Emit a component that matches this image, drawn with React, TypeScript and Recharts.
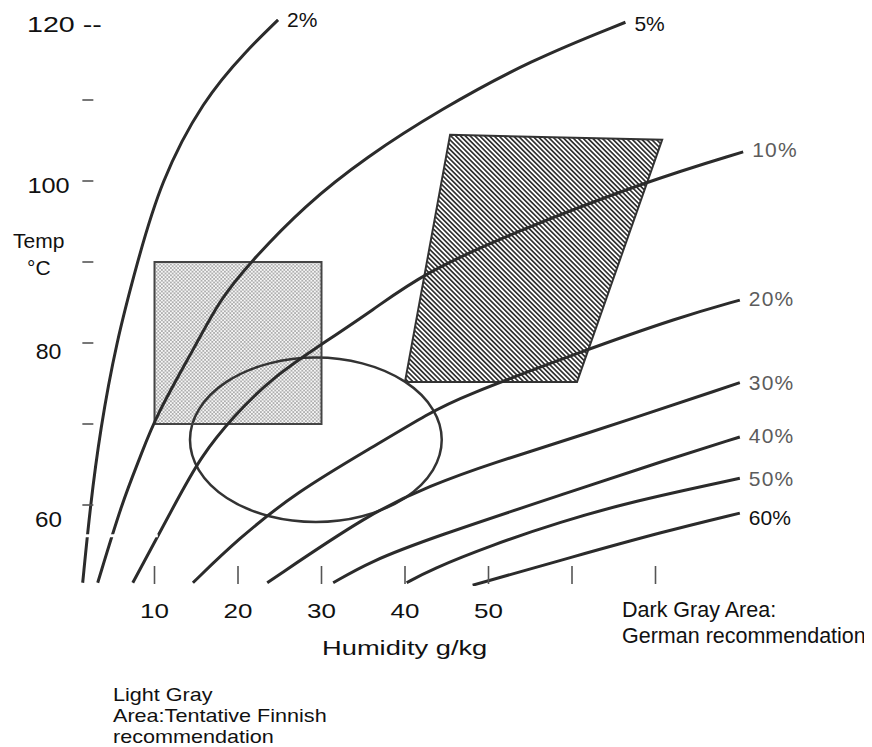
import React from 'react';
import { ComposedChart, Line, Area, XAxis, YAxis, ReferenceArea, LabelList } from 'recharts';

const FONT = '"Liberation Sans", Arial, Helvetica, sans-serif';
const W = 864;
const H = 739;
const Y_AXIS_W = 71.35;
const X_AXIS_H = 30;
const MARGIN = { top: 11, right: 124.65, bottom: 161 - X_AXIS_H, left: 0 };
const PLOT_LEFT = Y_AXIS_W;
const PLOT_BOTTOM = H - 161;

// ---- axes ----
const humidityTicks = [10, 20, 30, 40, 50, 60, 70];
const humidityTickLabels = ['10', '20', '30', '40', '50', '', ''];
const tempTicks = [60, 70, 80, 90, 100, 110, 120];
const tempTickLabels = ['60', '', '80', '', '100', '', '120 --'];
const xTitle = 'Humidity g/kg';
const yTitle = ['Temp', '°C'];

// ---- relative humidity curves: [humidity g/kg, temperature °C] ----
const rh2 = [[1.4, 50.4], [2.3, 59.8], [3.5, 69.3], [5.4, 80.0], [7.9, 89.8], [10.7, 99.9], [15.8, 110.0], [21.1, 116.2], [24.8, 119.9]];
const rh5 = [[3.2, 50.4], [6.2, 60.6], [8.3, 65.9], [10.1, 70.9], [15.1, 80.0], [17.8, 85.3], [21.4, 89.9], [28.0, 97.0], [35.4, 103.0], [44.2, 108.8], [55.0, 114.9], [66.4, 119.6]];
const rh10 = [[7.4, 50.4], [12.7, 60.6], [15.5, 65.9], [19.4, 70.9], [24.2, 75.8], [29.8, 79.7], [36.2, 84.1], [42.2, 88.6], [52.9, 93.6], [69.0, 100.0], [80.5, 103.6]];
const rh20 = [[14.6, 50.4], [20.0, 55.8], [27.0, 61.6], [36.2, 67.2], [43.0, 71.4], [46.6, 73.3], [61.0, 78.9], [72.9, 83.2], [80.1, 85.3]];
const rh30 = [[23.5, 50.4], [35.8, 59.0], [43.0, 62.4], [50.5, 65.2], [60.6, 68.4], [80.1, 75.1]];
const rh40 = [[31.4, 50.4], [35.8, 53.0], [43.0, 55.9], [60.6, 61.9], [70.5, 65.3], [80.1, 68.4]];
const rh50 = [[40.2, 50.4], [43.0, 52.0], [50.5, 55.1], [58.6, 57.9], [67.0, 60.4], [80.1, 63.3]];
const rh60 = [[48.1, 50.1], [60.1, 53.6], [70.9, 56.7], [80.1, 59.0]];

const curveLabels = ['2%', '5%', '10%', '20%', '30%', '40%', '50%', '60%'];
const curveData = [rh2, rh5, rh10, rh20, rh30, rh40, rh50, rh60];

// ---- recommendation areas ----
// Light gray: tentative Finnish recommendation (humidity 10-30, temp 70-90)
const lightBox = [{ h: 10, r: [70, 90] }, { h: 30, r: [70, 90] }];
const lightBoxOutline = [[10, 70], [10, 90], [30, 90], [30, 70], [10, 70]];
// Dark gray: German recommendation (parallelogram)
const darkBox = [{ h: 40, r: [75.2, 75.2] }, { h: 45.4, r: [75.2, 105.7] }, { h: 60.6, r: [75.2, 105.3] }, { h: 70.8, r: [105.1, 105.1] }];
const darkBoxOutline = [[40, 75.2], [45.4, 105.7], [70.8, 105.1], [60.6, 75.2], [40, 75.2]];
// Ellipse bounds
const ellipseHum = [14.25, 44.4];
const ellipseTemp = [57.9, 78.2];
// scan artefact (white gap)
const scanGap = [[1.3, 56.2], [10.4, 56.2]];

const notes = {
  dark: ['Dark Gray Area:', 'German recommendation'],
  light: ['Light Gray', 'Area:Tentative Finnish', 'recommendation'],
};

const toPts = (arr: number[][]) => arr.map(([h, t]) => ({ h, t }));

const labelColor: Record<string, string> = { '2%': '#111', '5%': '#111', '60%': '#111' };
const labelDy: Record<string, number> = { '2%': 0, '5%': 1.5, '10%': -2, '20%': -2, '30%': 0, '40%': -1, '50%': 0, '60%': 4.5 };

function SText({ x, y, sx = 1, anchor = 'start', size = 21, fill = '#111', ls = 0, children }: any) {
  return (
    <g transform={`translate(${x},${y}) scale(${sx},1)`}>
      <text x={0} y={0} textAnchor={anchor} fontSize={size} fill={fill} fontFamily={FONT} letterSpacing={ls}>
        {children}
      </text>
    </g>
  );
}

const Y_LABEL_STYLE: Record<string, { dy: number; sx: number }> = {
  '60': { dy: 22, sx: 1.1 },
  '80': { dy: 16, sx: 1.05 },
  '100': { dy: 12, sx: 1.15 },
  '120 --': { dy: 13, sx: 1.3 },
};

function YTick(props: any) {
  const { y, payload } = props;
  const i = tempTicks.indexOf(payload.value);
  const lab = tempTickLabels[i];
  const st = Y_LABEL_STYLE[lab];
  const isTop = lab === '120 --';
  return (
    <g>
      {!isTop && <line x1={PLOT_LEFT + 3} x2={PLOT_LEFT + 14} y1={y} y2={y} stroke="#555" strokeWidth={1.6} />}
      {lab && (isTop ? (
        <SText x={19} y={y + st.dy} sx={st.sx} size={22}>{lab}</SText>
      ) : (
        <SText x={40.5} y={y + st.dy} sx={st.sx} size={22} anchor="middle">{lab}</SText>
      ))}
    </g>
  );
}

function XTick(props: any) {
  const { x, payload } = props;
  const i = humidityTicks.indexOf(payload.value);
  const lab = humidityTickLabels[i];
  return (
    <g>
      <line x1={x} x2={x} y1={PLOT_BOTTOM - 20} y2={PLOT_BOTTOM - 2} stroke="#555" strokeWidth={1.6} />
      {lab && <SText x={x} y={610} sx={1.3} size={20} anchor="middle">{lab}</SText>}
    </g>
  );
}

const renderXTitle = () => <SText x={314} y={647} sx={1.3} size={21}>{xTitle}</SText>;
const renderYTitle = () => (
  <g>
    <SText x={5} y={240} size={21}>{yTitle[0]}</SText>
    <SText x={19} y={267} size={21}>{yTitle[1]}</SText>
  </g>
);

const EllipseShape = (p: any) => (
  <ellipse cx={p.x + p.width / 2} cy={p.y + p.height / 2} rx={p.width / 2} ry={p.height / 2} fill="none" stroke="#333" strokeWidth={2.5} />
);

export default function App() {
  return (
    <div style={{ position: 'relative', width: W, height: H, background: '#fff' }}>
      <ComposedChart width={W} height={H} margin={MARGIN}>
        <defs>
          <pattern id="dots" width="3.6" height="3.6" patternUnits="userSpaceOnUse">
            <rect width="3.6" height="3.6" fill="#f6f6f6" />
            <circle cx="0.9" cy="0.9" r="0.75" fill="#555" />
            <circle cx="2.7" cy="2.7" r="0.75" fill="#555" />
          </pattern>
          <pattern id="hatch" width="3.4" height="3.4" patternUnits="userSpaceOnUse" patternTransform="rotate(-45)">
            <rect width="3.4" height="3.4" fill="#fff" />
            <line x1="1.7" y1="0" x2="1.7" y2="3.4" stroke="#333" strokeWidth="1.7" />
          </pattern>
        </defs>
        <XAxis
          type="number"
          dataKey="h"
          domain={[1, 81]}
          allowDataOverflow
          ticks={humidityTicks}
          interval={0}
          height={X_AXIS_H}
          axisLine={false}
          tickLine={false}
          tick={(p: any) => <XTick {...p} />}
          label={{ content: renderXTitle }}
        />
        <YAxis
          type="number"
          dataKey="t"
          domain={[50, 120]}
          allowDataOverflow
          ticks={tempTicks}
          interval={0}
          width={Y_AXIS_W}
          axisLine={false}
          tickLine={false}
          tick={(p: any) => <YTick {...p} />}
          label={{ content: renderYTitle }}
        />
        <Area data={lightBox} dataKey="r" type="linear" fill="url(#dots)" fillOpacity={1} stroke="none" isAnimationActive={false} activeDot={false} />
        <Area data={darkBox} dataKey="r" type="linear" fill="url(#hatch)" fillOpacity={1} stroke="none" isAnimationActive={false} activeDot={false} />
        <Line data={toPts(lightBoxOutline)} dataKey="t" type="linear" stroke="#444" strokeWidth={2} dot={false} activeDot={false} isAnimationActive={false} />
        <Line data={toPts(darkBoxOutline)} dataKey="t" type="linear" stroke="#333" strokeWidth={2} dot={false} activeDot={false} isAnimationActive={false} />
        {curveData.map((arr, idx) => {
          const name = curveLabels[idx];
          const pts = arr.map(([h, t], i) => ({ h, t, lab: i === arr.length - 1 ? name : '' }));
          return (
            <Line
              key={name}
              data={pts}
              dataKey="t"
              type="basis"
              stroke="#2b2b2b"
              strokeWidth={3}
              dot={false}
              activeDot={false}
              isAnimationActive={false}
            >
              <LabelList
                dataKey="lab"
                content={(p: any) =>
                  p.value ? (
                    <SText
                      x={p.x + 9}
                      y={p.y + 7.5 + (labelDy[p.value] || 0)}
                      size={21}
                      fill={labelColor[p.value] || '#5c5c5c'}
                      ls={labelColor[p.value] ? 0 : 1.2}
                    >
                      {p.value}
                    </SText>
                  ) : null
                }
              />
            </Line>
          );
        })}
        <ReferenceArea x1={ellipseHum[0]} x2={ellipseHum[1]} y1={ellipseTemp[0]} y2={ellipseTemp[1]} shape={EllipseShape} />
        <Line data={toPts(scanGap)} dataKey="t" type="linear" stroke="#fff" strokeWidth={3} dot={false} activeDot={false} isAnimationActive={false} />
      </ComposedChart>
      <svg width={W} height={H} style={{ position: 'absolute', left: 0, top: 0, pointerEvents: 'none' }}>
        <SText x={614} y={609} size={21.5}>{notes.dark[0]}</SText>
        <SText x={614} y={635} size={21.5}>{notes.dark[1]}</SText>
        <SText x={105} y={693} size={18} sx={1.2}>{notes.light[0]}</SText>
        <SText x={105} y={714} size={18} sx={1.2}>{notes.light[1]}</SText>
        <SText x={105} y={735} size={18} sx={1.2}>{notes.light[2]}</SText>
      </svg>
    </div>
  );
}
